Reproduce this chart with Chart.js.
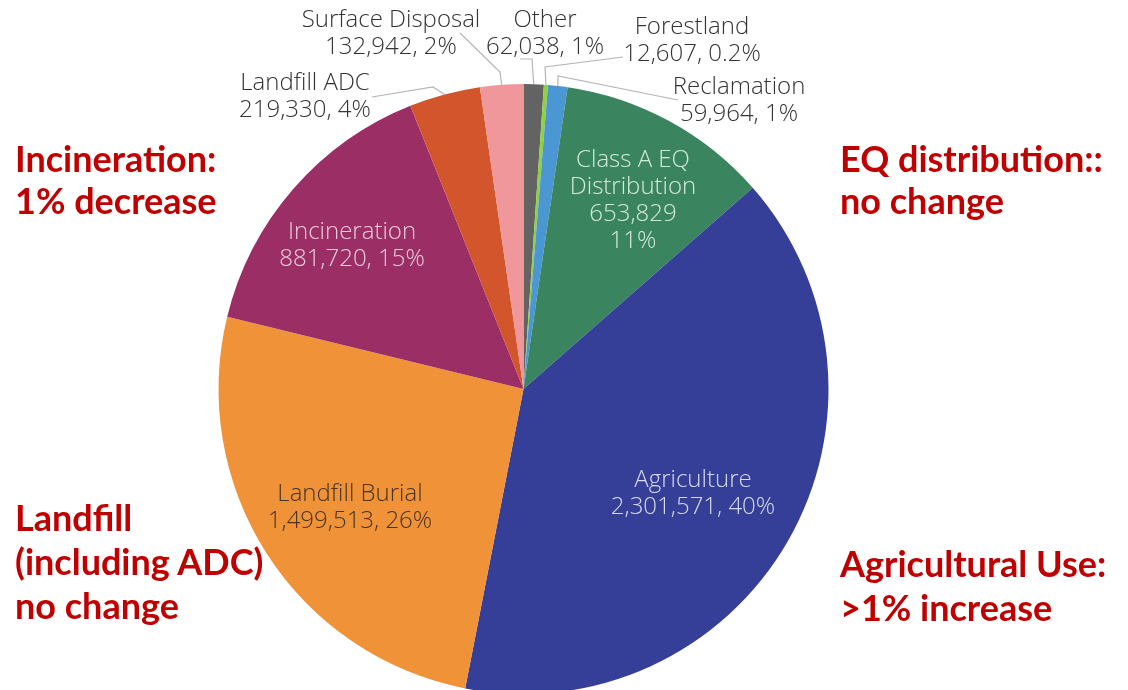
<!DOCTYPE html>
<html>
<head>
<meta charset="utf-8">
<script src="https://cdn.jsdelivr.net/npm/chart.js@4/dist/chart.umd.min.js"></script>
<style>
  html, body { margin: 0; padding: 0; background: #fff; overflow: hidden; }
  #wrap { position: absolute; left: 0; top: 0; width: 1128px; height: 700px; }
  .note { position: absolute; font-family: Lato, sans-serif; font-weight: 700; font-size: 36px;
          line-height: 42px; color: #c00000; white-space: nowrap; }
</style>
</head>
<body>
<div id="wrap"><canvas id="pie" width="1128" height="700"></canvas></div>
<div class="note" style="left:15px; top:137px;">Incineration:<br>1% decrease</div>
<div class="note" style="left:840px; top:137px;">EQ distribution::<br>no change</div>
<div class="note" style="left:15px; top:495px; line-height:44px;">Landfill<br>(including ADC)<br>no change</div>
<div class="note" style="left:840px; top:541px; line-height:44px;">Agricultural Use:<br>&gt;1% increase</div>
<script>
// clockwise from 12 o'clock
const categories = ['Other', 'Forestland', 'Reclamation', 'Class A EQ Distribution', 'Agriculture',
                    'Landfill Burial', 'Incineration', 'Landfill ADC', 'Surface Disposal'];
const tonnes = [62038, 12607, 59964, 653829, 2301571, 1499513, 881720, 219330, 132942];
const percents = ['1%', '0.2%', '1%', '11%', '40%', '26%', '15%', '4%', '2%'];
const colors = ['#636363', '#8fd13f', '#4a97d4', '#3a8560', '#363f98',
                '#ef9238', '#9c2e66', '#d2552c', '#f0979b'];

// where each label sits; outside labels get a leader line to their slice
const labelSpots = [
  { x: 545, y: 20, out: true, from: [520, 59], elbow: [532, 59] },
  { x: 692, y: 27, out: true, from: [623, 57], elbow: [545, 67] },
  { x: 739, y: 87, out: true, from: [678, 100], elbow: [558, 76] },
  { x: 633, y: 160, color: '#d3eadb', lines: ['Class A EQ', 'Distribution', '653,829', '11%'] },
  { x: 693, y: 480, color: '#d6daf3' },
  { x: 350, y: 494, color: '#4a3422' },
  { x: 352, y: 232, color: '#ebcbdc' },
  { x: 305, y: 83, out: true, from: [372, 97], elbow: [433, 87] },
  { x: 391, y: 20, out: true, from: [460, 33], elbow: [500, 72] }
];

const fmt = v => v.toLocaleString('en-US');

const sliceLabels = {
  id: 'sliceLabels',
  afterDatasetsDraw(chart) {
    const ctx = chart.ctx;
    const arcs = chart.getDatasetMeta(0).data;
    ctx.save();
    ctx.font = '300 24px "Open Sans", sans-serif';
    ctx.textAlign = 'center';
    ctx.textBaseline = 'middle';
    arcs.forEach((arc, i) => {
      const s = labelSpots[i];
      const lines = s.lines || [categories[i], fmt(tonnes[i]) + ', ' + percents[i]];
      if (s.out) {
        const mid = (arc.startAngle + arc.endAngle) / 2;
        const ex = arc.x + Math.cos(mid) * arc.outerRadius;
        const ey = arc.y + Math.sin(mid) * arc.outerRadius;
        ctx.strokeStyle = '#b5b5b5';
        ctx.lineWidth = 1.2;
        ctx.beginPath();
        ctx.moveTo(s.from[0], s.from[1]);
        ctx.lineTo(s.elbow[0], s.elbow[1]);
        ctx.lineTo(ex, ey);
        ctx.stroke();
        ctx.fillStyle = '#333';
      } else {
        ctx.fillStyle = s.color;
      }
      lines.forEach((t, k) => ctx.fillText(t, s.x, s.y + k * 27));
    });
    ctx.restore();
  }
};

new Chart(document.getElementById('pie'), {
  type: 'pie',
  data: {
    labels: categories,
    datasets: [{
      data: tonnes,
      backgroundColor: colors,
      borderWidth: 0
    }]
  },
  options: {
    responsive: false,
    animation: false,
    layout: { padding: { left: 218, right: 299, top: 84, bottom: 6 } },
    plugins: {
      legend: { display: false },
      tooltip: { enabled: false }
    }
  },
  plugins: [sliceLabels]
});
</script>
</body>
</html>
